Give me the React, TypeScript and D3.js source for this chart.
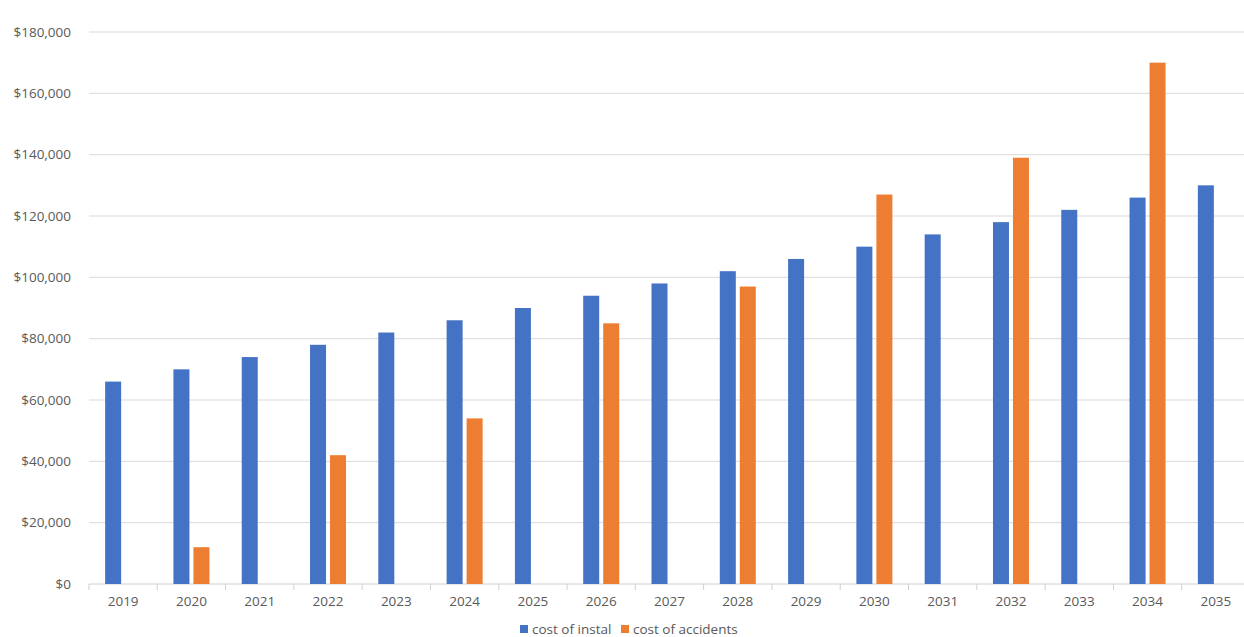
import React from "react";
import * as d3 from "d3";

const years = ["2019","2020","2021","2022","2023","2024","2025","2026","2027","2028","2029","2030","2031","2032","2033","2034","2035"];
const install = [66000,70000,74000,78000,82000,86000,90000,94000,98000,102000,106000,110000,114000,118000,122000,126000,130000];
const accidents: (number|null)[] = [null,12000,null,42000,null,54000,null,85000,null,97000,null,127000,null,139000,null,170000,null];
const yTicks = [0,20000,40000,60000,80000,100000,120000,140000,160000,180000];

export default function App() {
  const W = 1244, H = 637;
  const x = d3.scaleBand<string>().domain(years).range([89, 1250]);
  const y = d3.scaleLinear().domain([0, 180000]).range([584, 32]);
  const bw = 16, gap = 4;
  const font = "Open Sans, Liberation Sans, sans-serif";
  const fmt = (v: number) => "$" + d3.format(",")(v);
  return (
    <svg width={W} height={H} style={{ position: "absolute", left: 0, top: 0, background: "#fff" }}>
      {yTicks.map(t => (
        <g key={t}>
          {t > 0 && <line x1={89} x2={1244} y1={y(t)} y2={y(t)} stroke="#d9d9d9" />}
          <text x={71} y={y(t)} dy="0.35em" textAnchor="end" fontSize={13.5} fill="#595959" fontFamily={font}>{fmt(t)}</text>
        </g>
      ))}
      <line x1={89} x2={1244} y1={584} y2={584} stroke="#d0d0d0" />
      {years.map((yr, i) => {
        const c = x(yr)! + x.bandwidth() / 2;
        const a = accidents[i];
        return (
          <g key={yr}>
            <line x1={x(yr)!} x2={x(yr)!} y1={584} y2={590} stroke="#d0d0d0" />
            <rect x={c - gap / 2 - bw} y={y(install[i])} width={bw} height={584 - y(install[i])} fill="#4472C4" />
            {a != null && <rect x={c + gap / 2} y={y(a)} width={bw} height={584 - y(a)} fill="#ED7D31" />}
            <text x={c} y={606} textAnchor="middle" fontSize={13.5} fill="#595959" fontFamily={font}>{yr}</text>
          </g>
        );
      })}
      <rect x={520} y={625} width={8} height={8} fill="#4472C4" />
      <text x={532} y={629} dy="0.35em" fontSize={13.5} fill="#595959" fontFamily={font}>cost of instal</text>
      <rect x={621} y={625} width={8} height={8} fill="#ED7D31" />
      <text x={633} y={629} dy="0.35em" fontSize={13.5} fill="#595959" fontFamily={font}>cost of accidents</text>
    </svg>
  );
}
